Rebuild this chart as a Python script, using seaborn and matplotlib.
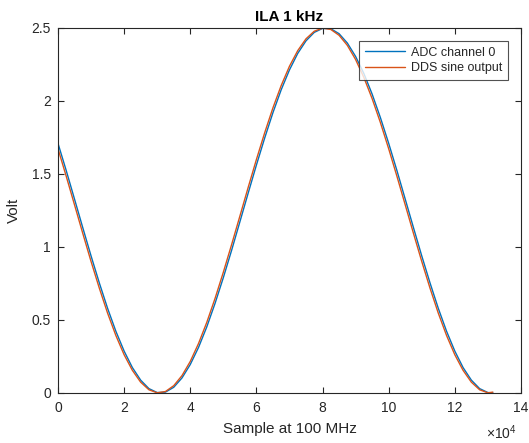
import numpy as np
import pandas as pd
import matplotlib
matplotlib.use('Agg')
import matplotlib.pyplot as plt
import seaborn as sns

# sample index in units of 1e4 samples (100 MHz sampling)
sample_e4 = [0.0, 0.25, 0.5, 0.75, 1.0, 1.25, 1.5, 1.75, 2.0, 2.25, 2.5, 2.75,
             3.0, 3.25, 3.5, 3.75, 4.0, 4.25, 4.5, 4.75, 5.0, 5.25, 5.5, 5.75,
             6.0, 6.25, 6.5, 6.75, 7.0, 7.25, 7.5, 7.75, 8.0, 8.25, 8.5, 8.75,
             9.0, 9.25, 9.5, 9.75, 10.0, 10.25, 10.5, 10.75, 11.0, 11.25, 11.5,
             11.75, 12.0, 12.25, 12.5, 12.75, 13.0, 13.15]

adc_ch0 = [1.710, 1.523, 1.328, 1.132, 0.939, 0.754, 0.580, 0.423, 0.287, 0.174,
           0.088, 0.030, 0.003, 0.006, 0.039, 0.103, 0.195, 0.312, 0.453, 0.614,
           0.790, 0.977, 1.172, 1.368, 1.561, 1.746, 1.920, 2.077, 2.213, 2.326,
           2.412, 2.470, 2.497, 2.495, 2.461, 2.397, 2.305, 2.188, 2.047, 1.886,
           1.710, 1.523, 1.328, 1.132, 0.939, 0.754, 0.580, 0.423, 0.287, 0.174,
           0.088, 0.030, 0.003, 0.001]

dds_sine = [1.673, 1.484, 1.289, 1.093, 0.901, 0.718, 0.547, 0.394, 0.262, 0.155,
            0.074, 0.022, 0.001, 0.010, 0.050, 0.119, 0.216, 0.339, 0.484, 0.648,
            0.827, 1.016, 1.211, 1.407, 1.599, 1.782, 1.953, 2.106, 2.238, 2.345,
            2.426, 2.478, 2.499, 2.490, 2.450, 2.381, 2.284, 2.161, 2.016, 1.852,
            1.673, 1.484, 1.289, 1.093, 0.901, 0.718, 0.547, 0.394, 0.262, 0.155,
            0.074, 0.022, 0.001, 0.006]

x_ticks = [0, 2, 4, 6, 8, 10, 12, 14]
y_ticks = [0, 0.5, 1, 1.5, 2, 2.5]
y_tick_labels = ['0', '0.5', '1', '1.5', '2', '2.5']

df = pd.DataFrame({'sample': sample_e4, 'adc': adc_ch0, 'dds': dds_sine})

sns.set_style('white')
plt.rcParams['font.family'] = ['Liberation Sans', 'DejaVu Sans']
plt.rcParams['mathtext.fontset'] = 'custom'
plt.rcParams['mathtext.rm'] = 'Liberation Sans'

axis_gray = '#262626'

fig = plt.figure(figsize=(5.29, 4.43), dpi=100)
ax = fig.add_axes([0.1096, 0.1129, 0.8752, 0.8239])

sns.lineplot(data=df, x='sample', y='adc', ax=ax, color='#0072BD', linewidth=1.0,
             label='ADC channel 0')
sns.lineplot(data=df, x='sample', y='dds', ax=ax, color='#D95319', linewidth=1.0,
             label='DDS sine output')

ax.set_xlim(0, 14)
ax.set_ylim(0, 2.5)
ax.set_xticks(x_ticks)
ax.set_xticklabels([str(t) for t in x_ticks])
ax.set_yticks(y_ticks)
ax.set_yticklabels(y_tick_labels)

for s in ax.spines.values():
    s.set_color(axis_gray)
    s.set_linewidth(0.8)
ax.tick_params(direction='in', length=4, width=0.8, color=axis_gray,
               labelcolor=axis_gray, labelsize=10, top=True, right=True,
               bottom=True, left=True)
ax.tick_params(axis='x', pad=6)
ax.tick_params(axis='y', pad=5)

ax.set_xlabel('Sample at 100 MHz', fontsize=11, color=axis_gray)
ax.set_ylabel('Volt', fontsize=11, color=axis_gray)
ax.xaxis.set_label_coords(0.5, -0.08)
ax.yaxis.set_label_coords(-0.08, 0.5)
ax.set_title('ILA 1 kHz', fontsize=11, fontweight='bold', color='black', pad=5)

ax.text(0.9914, -0.082, r'$\times10^{4}$', transform=ax.transAxes, ha='right',
        va='top', fontsize=10, color=axis_gray)

leg = ax.legend(loc='upper right', bbox_to_anchor=(0.972, 0.964), frameon=True,
                fancybox=False, fontsize=9, handlelength=3.2, borderpad=0.45,
                labelspacing=0.28, handletextpad=0.5, borderaxespad=0)
leg.get_frame().set_edgecolor(axis_gray)
leg.get_frame().set_linewidth(0.8)

fig.savefig('out.png', dpi=100)
